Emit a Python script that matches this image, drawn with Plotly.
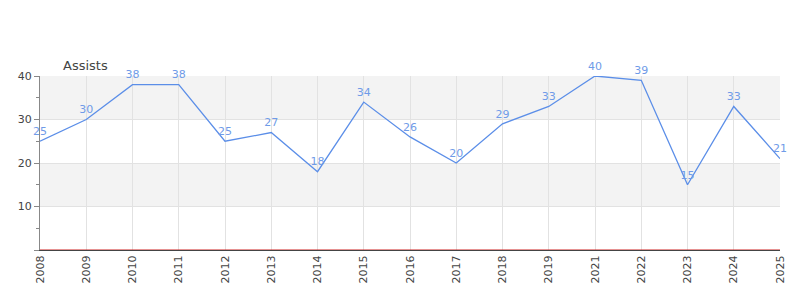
import plotly.graph_objects as go

years = ["2008", "2009", "2010", "2011", "2012", "2013", "2014", "2015", "2016",
         "2017", "2018", "2019", "2021", "2022", "2023", "2024", "2025"]
assists = [25, 30, 38, 38, 25, 27, 18, 34, 26, 20, 29, 33, 40, 39, 15, 33, 21]
y_ticks = [0, 10, 20, 30, 40]
y_tick_text = ["", "10", "20", "30", "40"]
bands = [(10, 20), (30, 40)]

fig = go.Figure()
fig.add_trace(go.Scatter(
    x=years, y=assists, mode="lines+markers+text",
    text=[str(v) for v in assists], textposition="top center",
    textfont=dict(family="DejaVu Sans", size=11, color="#6f9be8"),
    marker=dict(size=4, color="rgba(0,0,0,0)"),
    line=dict(color="#5b8ee8", width=1.3),
    cliponaxis=False, hoverinfo="skip",
))

for lo, hi in bands:
    fig.add_shape(type="rect", xref="paper", yref="y", x0=0, x1=1, y0=lo, y1=hi,
                  fillcolor="#f3f3f3", line=dict(width=0), layer="below")

fig.add_annotation(text="Assists", xref="paper", yref="paper", x=0, y=1,
                   xanchor="left", yanchor="bottom", xshift=21, yshift=1,
                   showarrow=False,
                   font=dict(family="DejaVu Sans", size=13, color="#444"))

fig.update_layout(
    width=800, height=300,
    margin=dict(l=40, r=20, t=76, b=50),
    plot_bgcolor="white", paper_bgcolor="white",
    showlegend=False,
    font=dict(family="DejaVu Sans", size=11, color="#444"),
    xaxis=dict(type="category", tickangle=-90, showgrid=True, gridcolor="#e2e2e2",
               showline=True, linecolor="#444", linewidth=1, ticks="",
               range=[0, len(years) - 1], tickfont=dict(size=11, color="#444"),
               zeroline=False, fixedrange=True),
    yaxis=dict(range=[0, 40], tickvals=y_ticks, ticktext=y_tick_text,
               showgrid=True, gridcolor="#e2e2e2", showline=True, linecolor="#888",
               linewidth=1, ticks="outside", ticklen=5, tickcolor="#888",
               minor=dict(dtick=5, ticks="outside", ticklen=3, tickcolor="#888",
                          showgrid=False),
               zeroline=False, tickfont=dict(size=11, color="#444")),
)

fig.add_shape(type="line", xref="paper", yref="y", x0=0, x1=1, y0=0, y1=0,
              line=dict(color="#cc2222", width=1), layer="above")

fig.write_html("out.html")
